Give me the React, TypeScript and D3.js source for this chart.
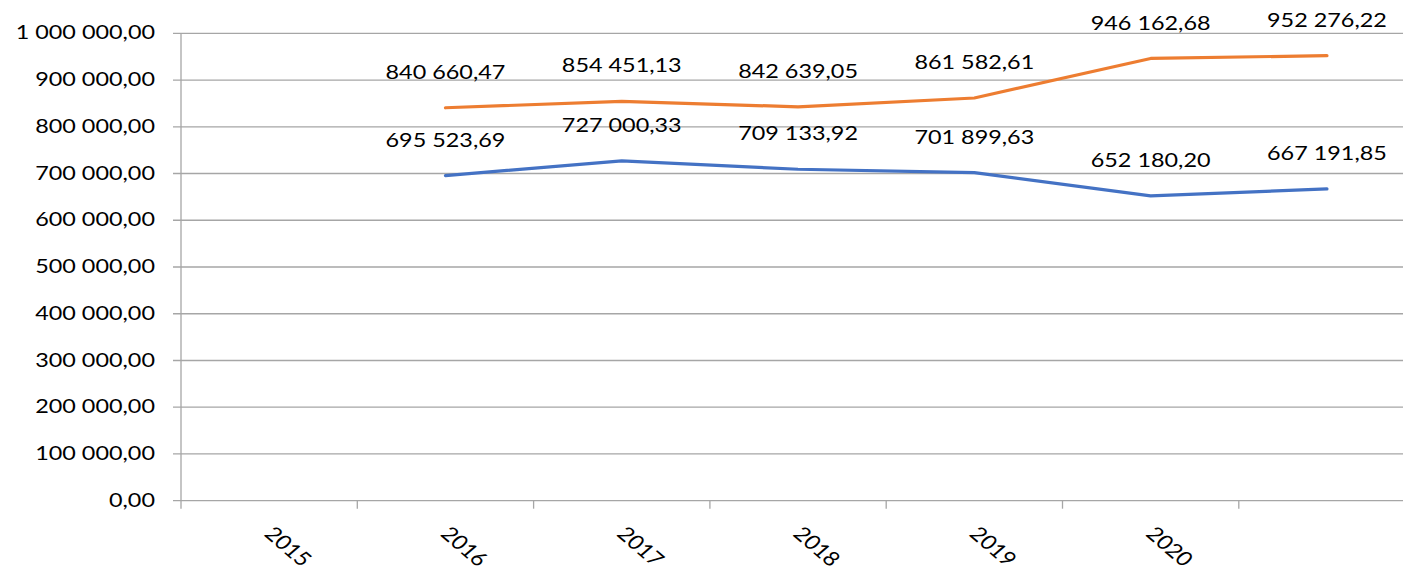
import React from "react";
import * as d3 from "d3";

const categories = ["2015", "2016", "2017", "2018", "2019", "2020", ""];
const seriesOrange: (number | null)[] = [null, 840660.47, 854451.13, 842639.05, 861582.61, 946162.68, 952276.22];
const seriesBlue: (number | null)[] = [null, 695523.69, 727000.33, 709133.92, 701899.63, 652180.2, 667191.85];
const yTicks = [0, 100000, 200000, 300000, 400000, 500000, 600000, 700000, 800000, 900000, 1000000];

const W = 1403;
const H = 570;
const SX = 1.17;
const FONT = "Lato, 'Open Sans', sans-serif";

const fmt = (v: number) =>
  d3.format(",.2f")(v).replace(/,/g, " ").replace(".", ",");

export default function App() {
  const left = 181;
  const bandW = 176.3;
  const x = d3.scaleBand<string>().domain(categories.map((c, i) => String(i))).range([left, left + bandW * categories.length]).padding(0);
  const y = d3.scaleLinear().domain([0, 1000000]).range([500.7, 33.3]);
  const cx = (i: number) => (x(String(i)) as number) + x.bandwidth() / 2;

  const line = d3
    .line<number | null>()
    .defined((d) => d !== null)
    .x((_, i) => cx(i))
    .y((d) => y(d as number));

  const series = [
    { vals: seriesBlue, color: "#4472C4" },
    { vals: seriesOrange, color: "#ED7D31" },
  ];

  return (
    <svg width={W} height={H} style={{ position: "absolute", left: 0, top: 0 }} fontFamily={FONT}>
      <rect width={W} height={H} fill="#fff" />
      {yTicks.map((t) => (
        <g key={t}>
          <line x1={173} x2={left + bandW * categories.length} y1={y(t)} y2={y(t)} stroke="#a6a6a6" strokeWidth={1.3} />
          <text
            transform={`translate(155,${y(t) + 1}) scale(${SX},1)`}
            textAnchor="end"
            dominantBaseline="middle"
            fontSize={20}
            fill="#000"
          >
            {fmt(t)}
          </text>
        </g>
      ))}
      <line x1={left} x2={left} y1={y(1000000)} y2={y(0) + 8} stroke="#a6a6a6" strokeWidth={1.3} />
      {categories.map((c, i) => (
        <line key={"tk" + i} x1={left + bandW * (i + 1)} x2={left + bandW * (i + 1)} y1={y(0)} y2={y(0) + 8} stroke="#a6a6a6" strokeWidth={1.3} />
      ))}
      {categories.map((c, i) =>
        c ? (
          <text
            key={"cl" + i}
            transform={`translate(${cx(i) - 6},535) scale(${SX},1) rotate(45)`}
            fontSize={20}
            fill="#000"
          >
            {c}
          </text>
        ) : null
      )}
      {series.map((s, k) => (
        <path key={"p" + k} d={line(s.vals) || ""} fill="none" stroke={s.color} strokeWidth={3.2} strokeLinejoin="round" strokeLinecap="round" />
      ))}
      {series.map((s, k) =>
        s.vals.map((v, i) =>
          v === null ? null : (
            <text
              key={"l" + k + "-" + i}
              transform={`translate(${cx(i)},${y(v) - 34}) scale(${SX},1)`}
              textAnchor="middle"
              dominantBaseline="middle"
              fontSize={20}
              fill="#000"
            >
              {fmt(v)}
            </text>
          )
        )
      )}
    </svg>
  );
}
